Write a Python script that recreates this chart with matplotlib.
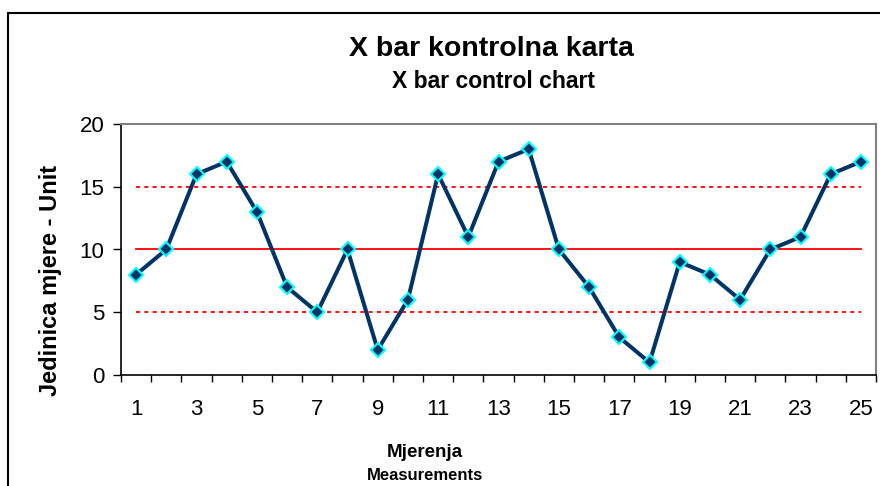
import matplotlib
matplotlib.use("Agg")
import matplotlib.pyplot as plt
from matplotlib.patches import Rectangle

plt.rcParams['font.family'] = ['Liberation Sans', 'DejaVu Sans']

measurements = list(range(1, 26))
values = [8, 10, 16, 17, 13, 7, 5, 10, 2, 6, 16, 11, 17, 18, 10, 7, 3, 1, 9, 8, 6, 10, 11, 16, 17]
center_line = 10
upper_limit = 15
lower_limit = 5
x_tick_labels = [str(i) for i in range(1, 26, 2)]
y_ticks = [0, 5, 10, 15, 20]

W, H = 880, 486
fig = plt.figure(figsize=(W / 100, H / 100), dpi=100)
ax = fig.add_axes([121 / W, 1 - 375 / H, (876 - 121) / W, (375 - 124) / H])

ax.plot(measurements, [upper_limit] * len(measurements), color='#FF0000', lw=1.3,
        linestyle=(0, (2.3, 2.3)), zorder=2)
ax.plot(measurements, [lower_limit] * len(measurements), color='#FF0000', lw=1.3,
        linestyle=(0, (2.3, 2.3)), zorder=2)
ax.plot(measurements, [center_line] * len(measurements), color='#FF0000', lw=1.3, zorder=2)
ax.plot(measurements, values, color='#003366', lw=2.9, marker='D', markersize=7.5,
        markerfacecolor='#003366', markeredgecolor='#00FFFF', markeredgewidth=1.5, zorder=3)

ax.set_xlim(0.5, 25.5)
ax.set_ylim(0, 20)
ax.set_yticks(y_ticks)
ax.set_yticklabels([str(v) for v in y_ticks], fontsize=16)
ax.set_xticks(list(range(1, 26, 2)))
ax.set_xticklabels(x_tick_labels, fontsize=16)
ax.set_xticks([i + 0.5 for i in range(0, 26)], minor=True)
ax.tick_params(axis='x', which='major', length=0, pad=17)
ax.tick_params(axis='x', which='minor', length=5, width=1, color='black', direction='out')
ax.tick_params(axis='y', length=6, width=1, color='black', direction='out', pad=6)

for s in ['top', 'right']:
    ax.spines[s].set_color('#808080')
    ax.spines[s].set_linewidth(1.5)
for s in ['left', 'bottom']:
    ax.spines[s].set_color('black')
    ax.spines[s].set_linewidth(1.2)

fig.text(491 / W, 1 - 49 / H, 'X bar kontrolna karta', ha='center', va='center',
         fontsize=20.5, fontweight='bold')
fig.text(493 / W, 1 - 81 / H, 'X bar control chart', ha='center', va='center',
         fontsize=16.5, fontweight='bold')
fig.text(425 / W, 1 - 452 / H, 'Mjerenja', ha='center', va='center',
         fontsize=13.5, fontweight='bold')
fig.text(425 / W, 1 - 475 / H, 'Measurements', ha='center', va='center',
         fontsize=12, fontweight='bold')
fig.text(50 / W, 1 - 280 / H, 'Jedinica mjere - Unit', ha='center', va='center',
         rotation=90, fontsize=17, fontweight='bold')

fig.add_artist(Rectangle((8 / W, -0.05), 1.0, 1 - 13 / H + 0.05, transform=fig.transFigure,
                         fill=False, edgecolor='black', lw=1.5))

fig.savefig('out.png', dpi=100)
